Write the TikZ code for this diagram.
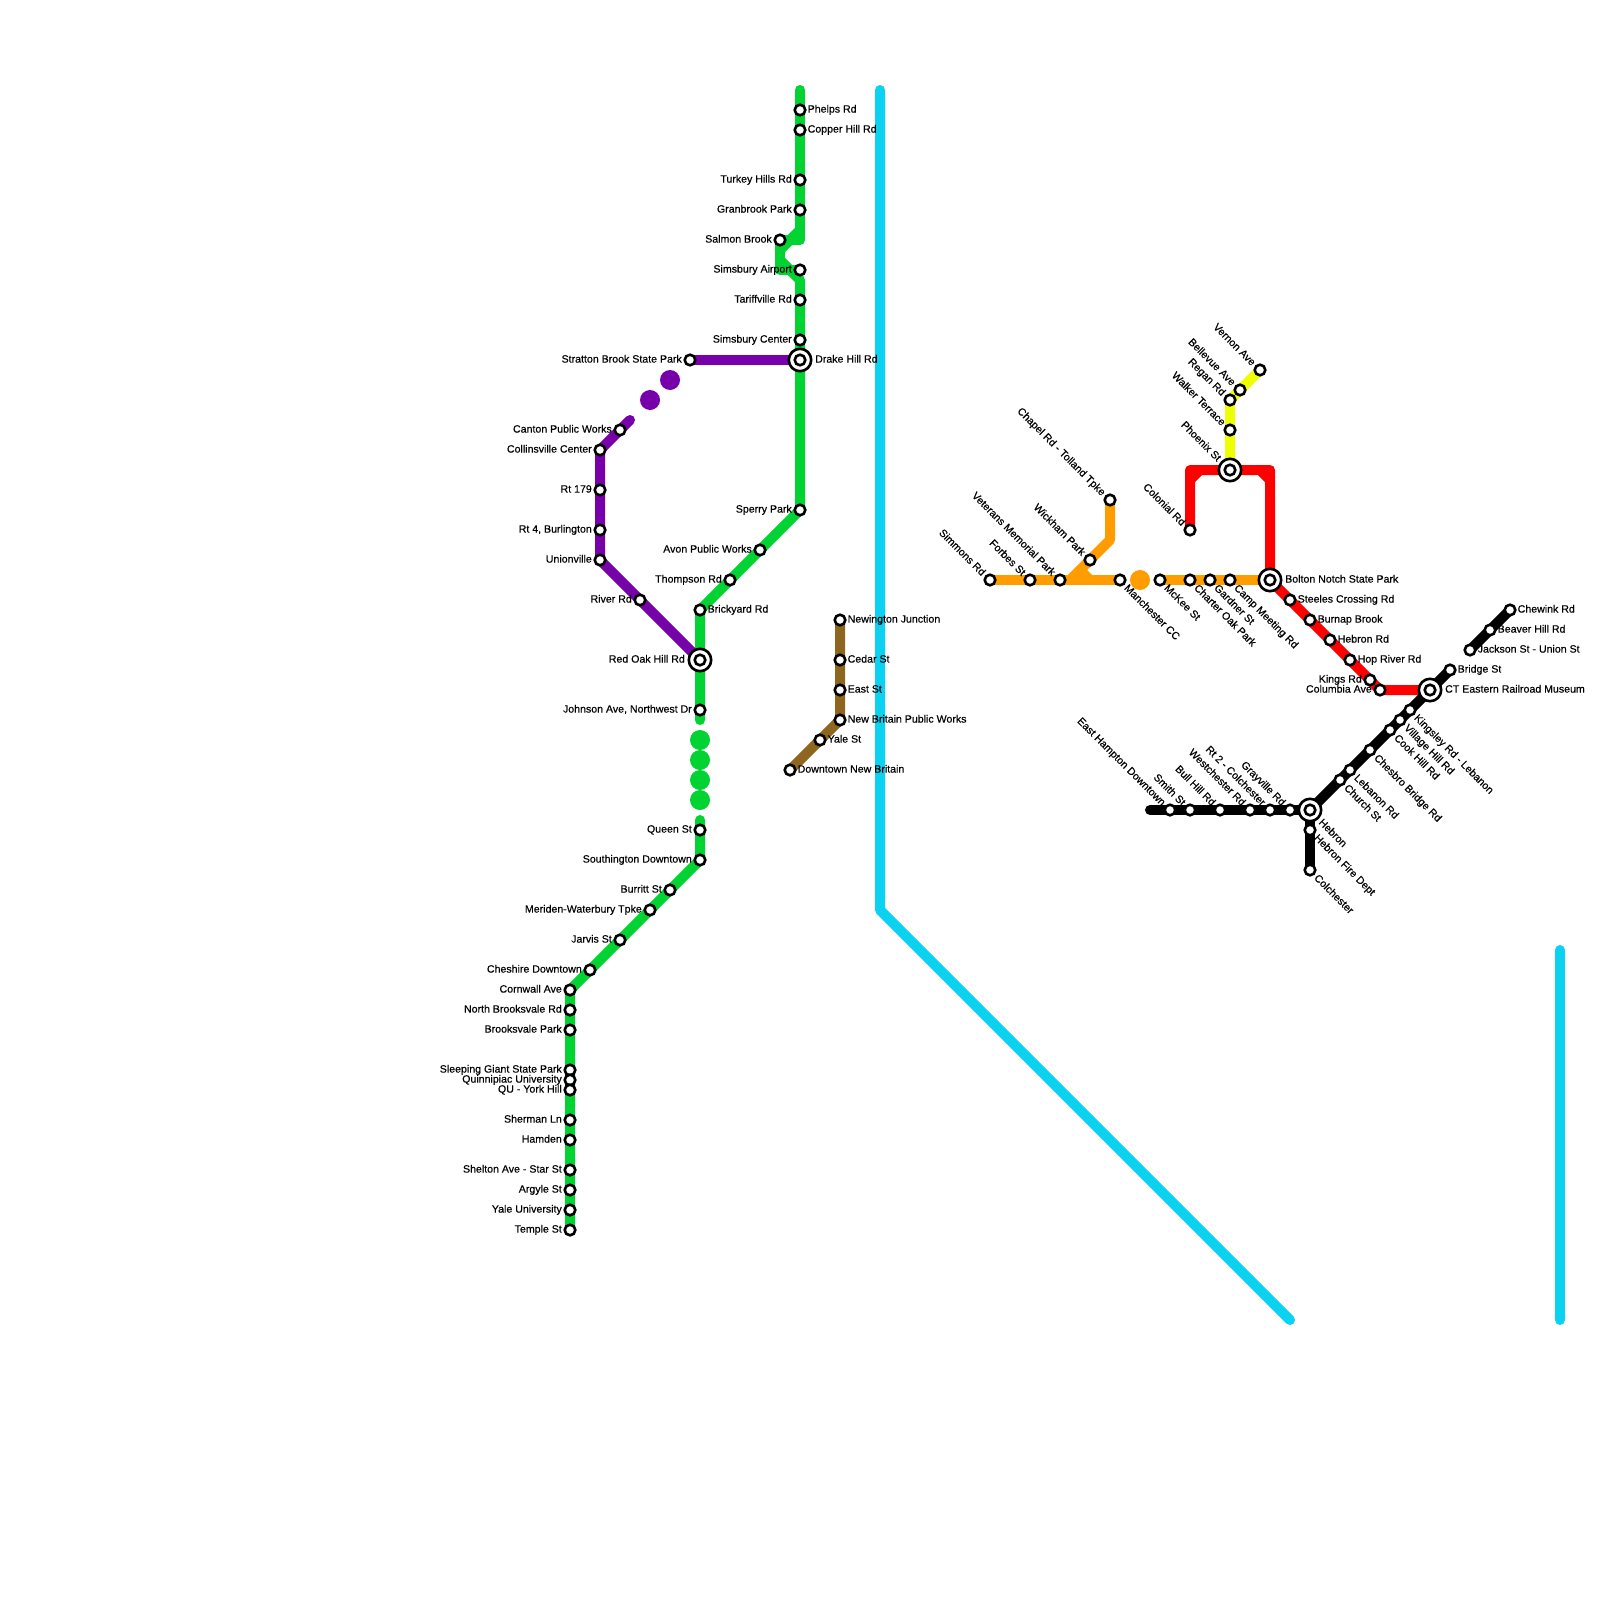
\documentclass[tikz,border=0pt]{standalone}
\usepackage{fontspec}
\setmainfont[FakeBold=0.4]{Liberation Sans}
\usetikzlibrary{backgrounds}
\definecolor{lgreen}{HTML}{00D332}
\definecolor{lpurple}{HTML}{7700AA}
\definecolor{lorange}{HTML}{FF9D00}
\definecolor{lred}{HTML}{FF0000}
\definecolor{lyellow}{HTML}{EEFF00}
\definecolor{lbrown}{HTML}{8F6620}
\definecolor{lcyan}{HTML}{0BD2F0}
\tikzset{
  route/.style={line width=10pt, line cap=round, line join=round},
  stopdot/.style={circle, draw=black, fill=white, line width=2.6pt, minimum size=10.6pt, inner sep=0pt},
  hubring/.style={circle, draw=black, fill=white, line width=2.6pt, minimum size=22.4pt, inner sep=0pt},
  gapdot/.style={circle, minimum size=20pt, inner sep=0pt},
  lbl/.style={inner sep=0pt, font=\fontsize{10.6}{11}\selectfont, text=black},
  lblr/.style={lbl, anchor=base west, xshift=7.5pt, yshift=-2.6pt},
  lbll/.style={lbl, anchor=base east, xshift=-8pt, yshift=-2.6pt},
  lbld/.style={lbl, anchor=base west, xshift=3.5pt, yshift=-8.5pt, rotate=-45},
  lblu/.style={lbl, anchor=base east, xshift=-8.5pt, yshift=3.5pt, rotate=-45},
  hubr/.style={lbl, anchor=base west, xshift=15pt, yshift=-2.6pt},
  hubl/.style={lbl, anchor=base east, xshift=-15pt, yshift=-2.6pt},
  hubd/.style={lbl, anchor=base west, xshift=8pt, yshift=-13pt, rotate=-45},
  hubu/.style={lbl, anchor=base east, xshift=-13pt, yshift=8pt, rotate=-45}
}
\newcommand{\stn}[4]{\node[stopdot] (#1) at (#2) {}; \node[#3] (#1t) at (#2) {#4};}
\newcommand{\hub}[4]{\node[hubring] (#1r) at (#2) {}; \node[stopdot] (#1) at (#2) {}; \node[#3] (#1t) at (#2) {#4};}

\begin{document}
\begin{tikzpicture}[x=1pt, y=-1pt]
  \useasboundingbox (0,0) rectangle (1600,1600);

  % green line
  \stn{phelps}{800,110}{lblr}{Phelps Rd}
  \stn{copper}{800,130}{lblr}{Copper Hill Rd}
  \stn{turkey}{800,180}{lbll}{Turkey Hills Rd}
  \stn{granbrook}{800,210}{lbll}{Granbrook Park}
  \stn{salmon}{780,240}{lbll}{Salmon Brook}
  \stn{airport}{800,270}{lbll}{Simsbury Airport}
  \stn{tariff}{800,300}{lbll}{Tariffville Rd}
  \stn{simcenter}{800,340}{lbll}{Simsbury Center}
  \hub{drake}{800,360}{hubr}{Drake Hill Rd}
  \stn{sperry}{800,510}{lbll}{Sperry Park}
  \stn{avon}{760,550}{lbll}{Avon Public Works}
  \stn{thompson}{730,580}{lbll}{Thompson Rd}
  \stn{brickyard}{700,610}{lblr}{Brickyard Rd}
  \hub{redoak}{700,660}{hubl}{Red Oak Hill Rd}
  \stn{johnson}{700,710}{lbll}{Johnson Ave, Northwest Dr}
  \stn{queen}{700,830}{lbll}{Queen St}
  \stn{southington}{700,860}{lbll}{Southington Downtown}
  \stn{burritt}{670,890}{lbll}{Burritt St}
  \stn{meriden}{650,910}{lbll}{Meriden-Waterbury Tpke}
  \stn{jarvis}{620,940}{lbll}{Jarvis St}
  \stn{cheshire}{590,970}{lbll}{Cheshire Downtown}
  \stn{cornwall}{570,990}{lbll}{Cornwall Ave}
  \stn{nbrook}{570,1010}{lbll}{North Brooksvale Rd}
  \stn{brookpark}{570,1030}{lbll}{Brooksvale Park}
  \stn{giant}{570,1070}{lbll}{Sleeping Giant State Park}
  \stn{quinn}{570,1080}{lbll}{Quinnipiac University}
  \stn{york}{570,1090}{lbll}{QU - York Hill}
  \stn{sherman}{570,1120}{lbll}{Sherman Ln}
  \stn{hamden}{570,1140}{lbll}{Hamden}
  \stn{shelton}{570,1170}{lbll}{Shelton Ave - Star St}
  \stn{argyle}{570,1190}{lbll}{Argyle St}
  \stn{yaleu}{570,1210}{lbll}{Yale University}
  \stn{temple}{570,1230}{lbll}{Temple St}
  \coordinate (gtop) at (800,90);
  \coordinate (gjoin) at (800,240);
  \coordinate (gsplit) at (800,230);
  \coordinate (gleft) at (780,250);
  \coordinate (gleftb) at (780,260);
  \coordinate (gcorner) at (780,270);
  \coordinate (gback) at (790,270);
  \coordinate (gdown) at (800,280);
  \coordinate (gend) at (700,720);
  \coordinate (gstart) at (700,820);
  \node[gapdot, fill=lgreen] (gd1) at (700,740) {};
  \node[gapdot, fill=lgreen] (gd2) at (700,760) {};
  \node[gapdot, fill=lgreen] (gd3) at (700,780) {};
  \node[gapdot, fill=lgreen] (gd4) at (700,800) {};

  % purple line
  \stn{stratton}{690,360}{lbll}{Stratton Brook State Park}
  \stn{canton}{620,430}{lbll}{Canton Public Works}
  \stn{collins}{600,450}{lbll}{Collinsville Center}
  \stn{rt179}{600,490}{lbll}{Rt 179}
  \stn{rt4}{600,530}{lbll}{Rt 4, Burlington}
  \stn{union}{600,560}{lbll}{Unionville}
  \stn{river}{640,600}{lbll}{River Rd}
  \coordinate (ptop) at (630,420);
  \node[gapdot, fill=lpurple] (pd1) at (670,380) {};
  \node[gapdot, fill=lpurple] (pd2) at (650,400) {};

  % brown line
  \stn{newington}{840,620}{lblr}{Newington Junction}
  \stn{cedar}{840,660}{lblr}{Cedar St}
  \stn{east}{840,690}{lblr}{East St}
  \stn{nbworks}{840,720}{lblr}{New Britain Public Works}
  \stn{yalest}{820,740}{lblr}{Yale St}
  \stn{newbritain}{790,770}{lblr}{Downtown New Britain}

  % orange line
  \stn{simmons}{990,580}{lblu}{Simmons Rd}
  \stn{forbes}{1030,580}{lblu}{Forbes St}
  \stn{veterans}{1060,580}{lblu}{Veterans Memorial Park}
  \stn{wickham}{1090,560}{lblu}{Wickham Park}
  \stn{chapel}{1110,500}{lblu}{Chapel Rd - Tolland Tpke}
  \stn{manchester}{1120,580}{lbld}{Manchester CC}
  \stn{mckee}{1160,580}{lbld}{McKee St}
  \stn{charter}{1190,580}{lbld}{Charter Oak Park}
  \stn{gardner}{1210,580}{lbld}{Gardner St}
  \stn{camp}{1230,580}{lbld}{Camp Meeting Rd}
  \hub{bolton}{1270,580}{hubr}{Bolton Notch State Park}
  \coordinate (obase) at (1070,580);
  \coordinate (obend) at (1110,540);
  \coordinate (onotch) at (1080,570);
  \coordinate (onotchb) at (1090,580);
  \node[gapdot, fill=lorange] (od1) at (1140,580) {};

  % red line
  \stn{colonial}{1190,530}{lblu}{Colonial Rd}
  \hub{phoenix}{1230,470}{hubu}{Phoenix St}
  \stn{steeles}{1290,600}{lblr}{Steeles Crossing Rd}
  \stn{burnap}{1310,620}{lblr}{Burnap Brook}
  \stn{hebronrd}{1330,640}{lblr}{Hebron Rd}
  \stn{hop}{1350,660}{lblr}{Hop River Rd}
  \stn{kings}{1370,680}{lbll}{Kings Rd}
  \stn{columbia}{1380,690}{lbll}{Columbia Ave}
  \hub{cteastern}{1430,690}{hubr}{CT Eastern Railroad Museum}
  \coordinate (rtl) at (1190,470);
  \coordinate (rtr) at (1270,470);
  \coordinate (rnl) at (1190,480);
  \coordinate (rnla) at (1200,470);
  \coordinate (rnr) at (1270,480);
  \coordinate (rnra) at (1260,470);

  % yellow line
  \stn{walker}{1230,430}{lblu}{Walker Terrace}
  \stn{regan}{1230,400}{lblu}{Regan Rd}
  \stn{bellevue}{1240,390}{lblu}{Bellevue Ave}
  \stn{vernon}{1260,370}{lblu}{Vernon Ave}

  % black lines
  \stn{hampton}{1170,810}{lblu}{East Hampton Downtown}
  \stn{smith}{1190,810}{lblu}{Smith St}
  \stn{bullhill}{1220,810}{lblu}{Bull Hill Rd}
  \stn{westchester}{1250,810}{lblu}{Westchester Rd}
  \stn{rt2}{1270,810}{lblu}{Rt 2 - Colchester}
  \stn{grayville}{1290,810}{lblu}{Grayville Rd}
  \hub{hebron}{1310,810}{hubd}{Hebron}
  \stn{firedept}{1310,830}{lbld}{Hebron Fire Dept}
  \stn{colchester}{1310,870}{lbld}{Colchester}
  \stn{church}{1340,780}{lbld}{Church St}
  \stn{lebanon}{1350,770}{lbld}{Lebanon Rd}
  \stn{chesbro}{1370,750}{lbld}{Chesbro Bridge Rd}
  \stn{cookhill}{1390,730}{lbld}{Cook Hill Rd}
  \stn{village}{1400,720}{lbld}{Village Hill Rd}
  \stn{kingsley}{1410,710}{lbld}{Kingsley Rd - Lebanon}
  \stn{bridge}{1450,670}{lblr}{Bridge St}
  \stn{jackson}{1470,650}{lblr}{Jackson St - Union St}
  \stn{beaver}{1490,630}{lblr}{Beaver Hill Rd}
  \stn{chewink}{1510,610}{lblr}{Chewink Rd}
  \coordinate (bstart) at (1150,810);

  % cyan line
  \coordinate (ca) at (880,90);
  \coordinate (cb) at (880,910);
  \coordinate (cc) at (1290,1320);
  \coordinate (cd) at (1560,950);
  \coordinate (ce) at (1560,1320);

  \begin{scope}[on background layer]
    \draw[route, lcyan] (ca) -- (cb) -- (cc);
    \draw[route, lcyan] (cd) -- (ce);
    \draw[route, lpurple] (stratton.center) -- (drake.center);
    \draw[route, lpurple] (ptop) -- (collins.center) -- (union.center) -- (redoak.center);
    \draw[route, lgreen] (gtop) -- (gjoin) -- (salmon.center) -- (gcorner) -- (airport.center);
    \draw[route, lgreen] (gsplit) -- (gleft);
    \draw[route, lgreen] (gleftb) -- (gback) -- (gdown) -- (sperry.center) -- (brickyard.center) -- (gend);
    \draw[route, lgreen] (gstart) -- (southington.center) -- (cornwall.center) -- (temple.center);
    \draw[route, lbrown] (newington.center) -- (nbworks.center) -- (newbritain.center);
    \draw[route, lorange] (simmons.center) -- (manchester.center);
    \draw[route, lorange] (obase) -- (obend) -- (chapel.center);
    \draw[route, lorange] (onotch) -- (onotchb);
    \draw[route, lorange] (mckee.center) -- (bolton.center);
    \draw[route, lred] (colonial.center) -- (rtl) -- (rtr) -- (bolton.center) -- (columbia.center) -- (cteastern.center);
    \draw[route, lred] (rnl) -- (rnla);
    \draw[route, lred] (rnr) -- (rnra);
    \draw[route, lyellow] (phoenix.center) -- (regan.center) -- (vernon.center);
    \draw[route, black] (bstart) -- (hebron.center) -- (colchester.center);
    \draw[route, black] (hebron.center) -- (bridge.center);
    \draw[route, black] (jackson.center) -- (chewink.center);
  \end{scope}
\end{tikzpicture}
\end{document}
